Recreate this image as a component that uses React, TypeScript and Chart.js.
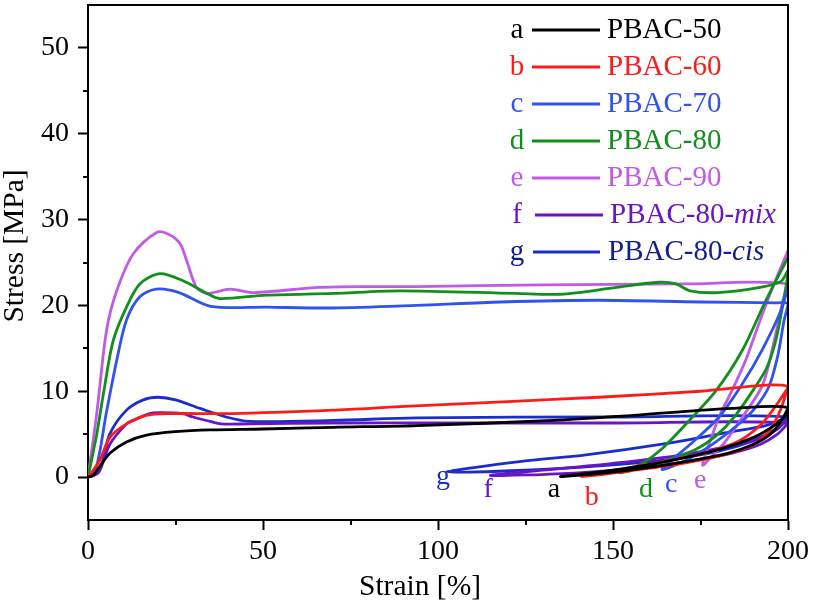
import { useEffect, useRef } from 'react';
import { Chart, registerables } from 'chart.js';

Chart.register(...registerables);

type P = [number, number];

// ---- data (strain %, stress MPa) ----
const sampleKeys = ['a', 'b', 'c', 'd', 'e', 'f', 'g'];
const legendMain = ['PBAC-50', 'PBAC-60', 'PBAC-70', 'PBAC-80', 'PBAC-90', 'PBAC-80-', 'PBAC-80-'];
const legendItalic = ['', '', '', '', '', 'mix', 'cis'];
const lineColors = ['#000000', '#ff1a1a', '#2f52f2', '#10901a', '#c25ae8', '#6a14c8', '#1c2ccc'];
const textColors = ['#000000', '#ff1a1a', '#2f52f2', '#10901a', '#c25ae8', '#6a14c8', '#12208f'];

const aLoad: P[] = [[0, 0], [1.5, 0.2], [3.3, 1.2], [6.3, 2.8], [11, 4.1], [16.7, 4.9], [25, 5.3], [35, 5.5], [50, 5.6], [70, 5.8], [94, 6.0], [133, 6.6], [156, 7.2], [184, 8.0], [200, 8.1]];
const aUnload: P[] = [[200, 8.1], [198, 6.5], [195, 5.0], [190, 3.8], [183, 2.8], [172, 1.9], [160, 1.1], [148, 0.5], [135, 0.05]];
const aReload: P[] = [[135, 0.05], [150, 0.8], [165, 1.8], [180, 3.2], [190, 4.6], [196, 6.0], [200, 7.4]];

const bLoad: P[] = [[0, 0], [3.3, 1.9], [6.2, 4.6], [11, 6.2], [16.7, 7.2], [24, 7.4], [41, 7.4], [70, 7.8], [89, 8.2], [120, 8.8], [146, 9.3], [175, 10.0], [200, 10.6]];
const bUnload: P[] = [[200, 10.6], [198, 8.0], [195, 5.6], [190, 3.8], [182, 2.6], [170, 1.6], [156, 0.8], [141, 0.05]];
const bReload: P[] = [[141, 0.05], [155, 1.1], [168, 2.1], [178, 3.0], [186, 4.2], [192, 6.0], [196, 8.0], [200, 10.4]];

const cLoad: P[] = [[0, 0], [2.4, 1.2], [5.2, 7.4], [8.2, 13.6], [11, 18.3], [14.8, 21], [19.5, 21.9], [26, 21.5], [35, 19.9], [51, 19.8], [70, 19.7], [94, 20.0], [118, 20.4], [146, 20.6], [175, 20.4], [197, 20.3], [200, 20.2]];
const cUnload: P[] = [[200, 20.2], [198.9, 18.3], [197, 14], [194.5, 10.5], [190.5, 8.0], [186.3, 6.3], [178.7, 3.9], [171, 2.0], [164, 0.9]];
const cReload: P[] = [[164, 0.9], [172.6, 4.0], [180.3, 7.0], [187, 10.9], [192.6, 14.8], [198, 19.4], [200, 22.1]];

const dLoad: P[] = [[0, 0], [2.5, 5.0], [4.4, 9.7], [7.2, 15.9], [11, 19.8], [14.8, 22.5], [20.5, 23.7], [27, 22.9], [34, 21.4], [37.6, 20.8], [51, 21.2], [70, 21.4], [89, 21.7], [122, 21.4], [135, 21.3], [151, 22.1], [163, 22.7], [168, 22.5], [172, 21.7], [180, 21.5], [192, 22.1], [198, 22.8], [200, 24.0]];
const dUnload: P[] = [[200, 24.0], [198.4, 19.8], [196.5, 15.9], [194, 12.8], [190.8, 10.6], [185, 7.2], [179.4, 4.8], [173.6, 3.2], [167, 2.2], [160, 1.3], [152, 0.5]];
const dReload: P[] = [[152, 0.5], [158, 1.5], [164, 3.3], [171.8, 6.6], [179.5, 10.1], [187, 14.8], [193.7, 20.6], [200, 25.6]];

const eLoad: P[] = [[0, 0], [2.5, 7.4], [5.3, 17.1], [8.2, 21.7], [12.9, 26], [19.6, 28.5], [23, 28.3], [26.3, 27.2], [28.2, 25.2], [31, 22.1], [33.9, 21.4], [40.5, 21.9], [47.2, 21.5], [66, 22.1], [80, 22.2], [94, 22.2], [130, 22.4], [170, 22.5], [200, 22.5]];
const eUnload: P[] = [[200, 22.5], [198.5, 20.5], [196.5, 16.7], [192.8, 10.8], [187, 7.0], [182.2, 4.2], [178.4, 2.5], [175.6, 1.4]];
const eReload: P[] = [[175.6, 1.4], [177.5, 3.9], [180.3, 7.0], [184.5, 10.5], [187.9, 13.6], [191.7, 17.9], [196, 22.5], [200, 26.4]];

const fLoad: P[] = [[0, 0], [3, 0.5], [6.2, 3.8], [11, 6.2], [12.9, 6.6], [17.6, 7.4], [20.5, 7.5], [27, 7.4], [30, 7.0], [34.8, 6.5], [38, 6.2], [46, 6.2], [70, 6.3], [100, 6.3], [150, 6.3], [200, 6.3]];
const fUnload: P[] = [[200, 6.3], [197, 5.0], [192, 3.8], [184, 2.8], [172, 1.9], [158, 1.1], [140, 0.5], [125, 0.25], [115, 0.2]];
const fReload: P[] = [[115, 0.2], [130, 0.8], [150, 1.6], [170, 2.6], [185, 3.8], [194, 5.0], [200, 6.6]];

const gLoad: P[] = [[0, 0], [3.3, 0.8], [6.2, 5.0], [11, 7.8], [15.8, 9.0], [20, 9.3], [25, 9.0], [32, 8.0], [39.5, 7.0], [46, 6.5], [70, 6.6], [94, 6.9], [150, 7.0], [200, 7.0]];
const gUnload: P[] = [[200, 7.0], [197, 5.6], [190, 4.2], [180, 3.0], [165, 2.0], [146, 1.3], [125, 0.8], [103, 0.6]];
const gReload: P[] = [[103, 0.6], [123.3, 1.8], [142.3, 2.6], [165, 3.9], [184, 5.3], [193.6, 6.0], [198.9, 6.8], [200, 7.0]];

const curves: P[][][] = [
  [aLoad, aUnload, aReload],
  [bLoad, bUnload, bReload],
  [cLoad, cUnload, cReload],
  [dLoad, dUnload, dReload],
  [eLoad, eUnload, eReload],
  [fLoad, fUnload, fReload],
  [gLoad, gUnload, gReload],
];

// residual-strain letter labels (x, baseline y in data units)
const loopLabelX = [133.1, 143.9, 166.6, 159.4, 174.9, 114.3, 101.4];
const loopLabelY = [-2.3, -3.26, -1.74, -2.3, -1.28, -2.3, -0.8];

const xMajorTicks = [0, 50, 100, 150, 200];
const yMajorTicks = [0, 10, 20, 30, 40, 50];
const xMinorTicks = [25, 75, 125, 175];
const yMinorTicks = [5, 15, 25, 35, 45];

// ---- layout / style ----
const SERIF = '"Liberation Serif", "Times New Roman", serif';
const legendRowY = [30, 67, 104, 141, 178, 215, 252];
const legendLetterX = 517;
const legendLineX0 = [532, 532, 532, 532, 532, 535, 533];
const legendLineX1 = [600, 600, 600, 600, 600, 603, 600];
const legendTextX = [607, 607, 607, 607, 607, 610, 608];

const decor = {
  id: 'decor',
  afterDraw(chart: any) {
    const { ctx, chartArea, scales } = chart;
    const { left, right, top, bottom } = chartArea;
    const xs = scales.x;
    const ys = scales.y;
    ctx.save();
    // frame top & right
    ctx.strokeStyle = '#000';
    ctx.lineWidth = 2;
    ctx.beginPath();
    ctx.moveTo(left - 1, top);
    ctx.lineTo(right, top);
    ctx.lineTo(right, bottom + 1);
    ctx.stroke();
    // minor ticks
    ctx.beginPath();
    for (const v of xMinorTicks) {
      const px = Math.round(xs.getPixelForValue(v));
      ctx.moveTo(px, bottom);
      ctx.lineTo(px, bottom + 5);
    }
    for (const v of yMinorTicks) {
      const py = Math.round(ys.getPixelForValue(v));
      ctx.moveTo(left, py);
      ctx.lineTo(left - 5, py);
    }
    ctx.stroke();

    // axis titles
    ctx.fillStyle = '#000';
    ctx.font = `29.5px ${SERIF}`;
    ctx.textAlign = 'center';
    ctx.textBaseline = 'middle';
    ctx.fillText('Strain [%]', 420, 587);
    ctx.save();
    ctx.translate(15, 246);
    ctx.rotate(-Math.PI / 2);
    ctx.fillText('Stress [MPa]', 0, 0);
    ctx.restore();

    // legend
    for (let i = 0; i < sampleKeys.length; i++) {
      const yy = legendRowY[i];
      ctx.font = `29px ${SERIF}`;
      ctx.textBaseline = 'middle';
      ctx.textAlign = 'center';
      ctx.fillStyle = textColors[i];
      ctx.fillText(sampleKeys[i], legendLetterX, yy);
      ctx.strokeStyle = lineColors[i];
      ctx.lineWidth = 3;
      ctx.beginPath();
      ctx.moveTo(legendLineX0[i], yy);
      ctx.lineTo(legendLineX1[i], yy);
      ctx.stroke();
      ctx.textAlign = 'left';
      ctx.fillText(legendMain[i], legendTextX[i], yy);
      if (legendItalic[i]) {
        const w = ctx.measureText(legendMain[i]).width;
        ctx.font = `italic 29px ${SERIF}`;
        ctx.fillText(legendItalic[i], legendTextX[i] + w, yy);
      }
    }

    // loop letters
    ctx.font = `28px ${SERIF}`;
    ctx.textAlign = 'center';
    ctx.textBaseline = 'alphabetic';
    for (let i = 0; i < sampleKeys.length; i++) {
      ctx.fillStyle = lineColors[i];
      ctx.fillText(sampleKeys[i], xs.getPixelForValue(loopLabelX[i]), ys.getPixelForValue(loopLabelY[i]));
    }
    ctx.restore();
  },
};

export default function App() {
  const ref = useRef<HTMLCanvasElement | null>(null);
  useEffect(() => {
    if (!ref.current) return;
    const datasets = curves.map((parts, i) => {
      const pts: P[] = [...parts[0], ...parts[1].slice(1), ...parts[2].slice(1)];
      return {
        label: legendMain[i] + legendItalic[i],
        data: pts.map(([x, y]) => ({ x, y })),
        borderColor: lineColors[i],
        backgroundColor: lineColors[i],
        borderWidth: 2.8,
        pointRadius: 0,
        tension: 0.3,
        fill: false,
      };
    });
    const tickFont = { family: SERIF, size: 28 };
    const chart = new Chart(ref.current, {
      type: 'line',
      data: { datasets },
      options: {
        animation: false,
        responsive: true,
        maintainAspectRatio: false,
        layout: { padding: { top: 5, right: 25, left: 0, bottom: 0 } },
        plugins: { legend: { display: false }, tooltip: { enabled: false } },
        scales: {
          x: {
            type: 'linear',
            min: 0,
            max: 200,
            afterBuildTicks: (s: any) => { s.ticks = xMajorTicks.map((v) => ({ value: v })); },
            ticks: { font: tickFont, color: '#000', padding: 5, maxRotation: 0 },
            grid: { drawOnChartArea: false, tickLength: 10, tickWidth: 2, tickColor: '#000' },
            border: { display: true, color: '#000', width: 2 },
            afterFit: (s: any) => { s.height = 87; s.paddingLeft = 0; s.paddingRight = 0; },
          },
          y: {
            type: 'linear',
            min: -5,
            max: 55,
            afterBuildTicks: (s: any) => { s.ticks = yMajorTicks.map((v) => ({ value: v })); },
            ticks: { font: tickFont, color: '#000', padding: 9 },
            grid: { drawOnChartArea: false, tickLength: 10, tickWidth: 2, tickColor: '#000' },
            border: { display: true, color: '#000', width: 2 },
            afterFit: (s: any) => { s.width = 88; s.paddingTop = 0; s.paddingBottom = 0; },
          },
        },
      } as any,
      plugins: [decor],
    });
    return () => chart.destroy();
  }, []);
  return (
    <div style={{ position: 'fixed', left: 0, top: 0, width: 813, height: 607, background: '#fff' }}>
      <canvas ref={ref} />
    </div>
  );
}
